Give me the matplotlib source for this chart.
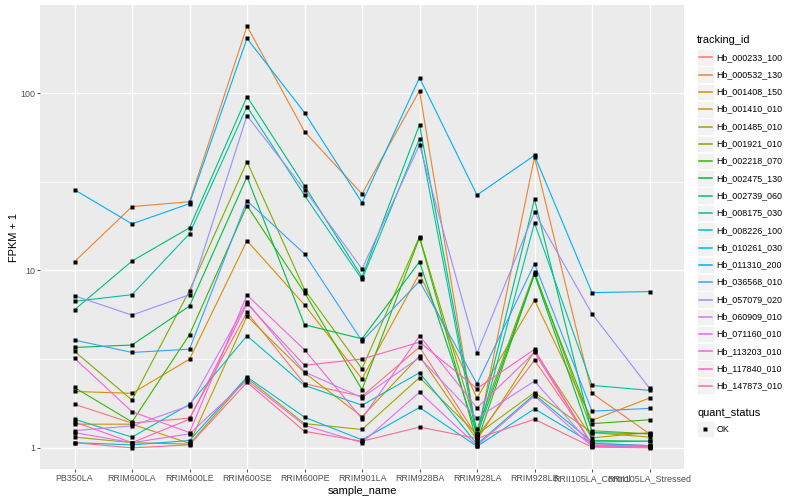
import numpy as np
import matplotlib
matplotlib.use("Agg")
import matplotlib.pyplot as plt
from matplotlib.patches import Rectangle
from matplotlib.lines import Line2D
from matplotlib.ticker import NullLocator

plt.rcParams['font.family'] = ['Liberation Sans', 'DejaVu Sans']

sample_names = ["PB350LA", "RRIM600LA", "RRIM600LE", "RRIM600SE", "RRIM600PE",
                "RRIM901LA", "RRIM928BA", "RRIM928LA", "RRIM928LB",
                "RRII105LA_Control", "RRII105LA_Stressed"]

tracking_ids = ["Hb_000233_100", "Hb_000532_130", "Hb_001408_150", "Hb_001410_010",
                "Hb_001485_010", "Hb_001921_010", "Hb_002218_070", "Hb_002475_130",
                "Hb_002739_060", "Hb_008175_030", "Hb_008226_100", "Hb_010261_030",
                "Hb_011310_200", "Hb_036568_010", "Hb_057079_020", "Hb_060909_010",
                "Hb_071160_010", "Hb_113203_010", "Hb_117840_010", "Hb_147873_010"]

# FPKM + 1 per gene, in sample_names order
hb_000233_100 = [1.76, 1.38, 1.47, 5.8, 2.3, 1.95, 3.7, 1.16, 3.12, 1.06, 1.03]
hb_000532_130 = [11.2, 22.9, 24.4, 238, 60.6, 27.0, 103, 1.15, 43.5, 2.03, 1.2]
hb_001408_150 = [2.08, 2.03, 3.16, 14.7, 6.4, 2.45, 9.6, 1.91, 6.8, 1.43, 1.91]
hb_001410_010 = [1.36, 1.36, 1.06, 5.53, 2.65, 1.5, 3.29, 1.11, 3.5, 1.14, 1.22]
hb_001485_010 = [1.15, 1.07, 1.05, 2.47, 1.37, 1.27, 2.49, 1.19, 2.05, 1.22, 1.15]
hb_001921_010 = [3.5, 1.86, 7.7, 41, 7.8, 2.79, 15.5, 1.27, 9.8, 1.25, 1.2]
hb_002218_070 = [2.19, 1.4, 4.35, 23.2, 7.5, 2.13, 15.3, 1.08, 9.6, 1.37, 1.44]
hb_002475_130 = [3.68, 3.8, 6.3, 33.7, 4.94, 4.12, 11.2, 1.19, 9.5, 1.1, 1.09]
hb_002739_060 = [6.0, 11.3, 17.4, 95.5, 30, 9.2, 66.3, 1.2, 25.2, 1.22, 1.2]
hb_008175_030 = [6.7, 7.3, 16.1, 83.8, 26.5, 8.9, 55.3, 1.13, 18.5, 2.25, 2.11]
hb_008226_100 = [1.45, 1.15, 1.76, 4.28, 2.25, 1.74, 2.65, 1.05, 2.0, 1.08, 1.09]
hb_010261_030 = [1.07, 1.04, 1.1, 2.51, 1.49, 1.11, 1.69, 1.02, 1.66, 1.06, 1.03]
hb_011310_200 = [28.5, 18.3, 23.8, 203, 77.6, 24.1, 122, 26.6, 44.5, 7.5, 7.6]
hb_036568_010 = [4.05, 3.45, 3.6, 24.7, 12.4, 4.0, 8.7, 2.3, 10.9, 1.61, 1.67]
hb_057079_020 = [7.2, 5.6, 7.3, 74.6, 28.5, 10.2, 51, 3.42, 21.3, 5.7, 2.17]
hb_060909_010 = [1.25, 1.33, 1.73, 6.63, 2.68, 1.92, 3.23, 1.47, 2.38, 1.03, 1.02]
hb_071160_010 = [1.22, 1.07, 1.2, 2.4, 1.34, 1.07, 2.06, 1.03, 1.96, 1.02, 1.01]
hb_113203_010 = [3.2, 1.6, 1.22, 7.27, 3.57, 1.46, 4.28, 1.68, 3.45, 1.04, 1.02]
hb_117840_010 = [1.4, 1.07, 1.45, 6.5, 2.92, 3.17, 3.94, 2.16, 3.59, 1.03, 1.02]
hb_147873_010 = [1.07, 1.0, 1.04, 2.34, 1.24, 1.09, 1.31, 1.13, 1.45, 1.01, 1.0]

series = [hb_000233_100, hb_000532_130, hb_001408_150, hb_001410_010, hb_001485_010,
          hb_001921_010, hb_002218_070, hb_002475_130, hb_002739_060, hb_008175_030,
          hb_008226_100, hb_010261_030, hb_011310_200, hb_036568_010, hb_057079_020,
          hb_060909_010, hb_071160_010, hb_113203_010, hb_117840_010, hb_147873_010]

# ggplot default hue palette for 20 levels
colours = ["#F8766D", "#EA8331", "#D89000", "#C09B00", "#A3A500", "#7CAE00", "#39B600",
           "#00BB4E", "#00BF7D", "#00C1A3", "#00BFC4", "#00BAE0", "#00B0F6", "#35A2FF",
           "#9590FF", "#C77CFF", "#E76BF3", "#FA62DB", "#FF62BC", "#FF6C91"]

W, H = 800, 500
fig = plt.figure(figsize=(8, 5), dpi=100)
ax = fig.add_axes([40 / W, 1 - 469 / H, (684 - 40) / W, (469 - 5) / H])
ax.set_facecolor("#EBEBEB")

x = np.arange(len(sample_names))
for vals, col in zip(series, colours):
    ax.plot(x, vals, color=col, lw=0.8, zorder=2)
for vals in series:
    ax.plot(x, vals, 's', color='black', ms=2.6, mec='none', zorder=3)

ax.set_yscale('log')
ax.set_ylim(10 ** -0.119, 10 ** 2.496)
ax.set_xlim(-0.6, len(sample_names) - 0.4)
ax.set_yticks([1, 10, 100])
ax.set_yticklabels(["1", "10", "100"])
ax.yaxis.set_minor_locator(NullLocator())
ax.set_xticks(x)
ax.set_xticklabels(sample_names)

ax.set_axisbelow(True)
ax.grid(True, color='white', lw=1.0, zorder=0)
for m in [10 ** 0.5, 10 ** 1.5]:
    ax.axhline(m, color='white', lw=0.5, zorder=0)

for s in ax.spines.values():
    s.set_visible(False)
ax.tick_params(length=2.0, width=0.6, color='#333333', labelcolor='#4D4D4D',
               labelsize=6.4, pad=1.6)

ax.set_xlabel("sample_name", fontsize=7.9, labelpad=2)
ax.set_ylabel("FPKM + 1", fontsize=7.9, labelpad=1)

# legends, ggplot style
def fx(px):
    return px / W

def fy(py):
    return 1 - py / H

fig.text(fx(697), fy(40), "tracking_id", fontsize=7.9, va='center', ha='left')
dy = 17.3
for i, (name, col) in enumerate(zip(tracking_ids, colours)):
    yc = 57.3 + i * dy
    fig.add_artist(Rectangle((fx(697), fy(yc + 8.3)), 16.6 / W, 16.6 / H,
                             transform=fig.transFigure, facecolor='#F2F2F2',
                             edgecolor='white', lw=0.5, zorder=1))
    fig.add_artist(Line2D([fx(698.5), fx(712)], [fy(yc), fy(yc)],
                          transform=fig.transFigure, color=col, lw=1.1, zorder=3))
    fig.text(fx(716.5), fy(yc), name, fontsize=6.4, va='center', ha='left')

fig.text(fx(697), fy(412.7), "quant_status", fontsize=7.9, va='center', ha='left')
fig.add_artist(Rectangle((fx(697), fy(429 + 8.3)), 16.6 / W, 16.6 / H,
                         transform=fig.transFigure, facecolor='#F2F2F2',
                         edgecolor='white', lw=0.5, zorder=1))
fig.add_artist(Line2D([fx(705.3)], [fy(429)], transform=fig.transFigure,
                      marker='s', color='black', ms=2.6, mec='none', ls='none', zorder=3))
fig.text(fx(716.5), fy(429), "OK", fontsize=6.4, va='center', ha='left')

fig.savefig("out.png", dpi=100)
